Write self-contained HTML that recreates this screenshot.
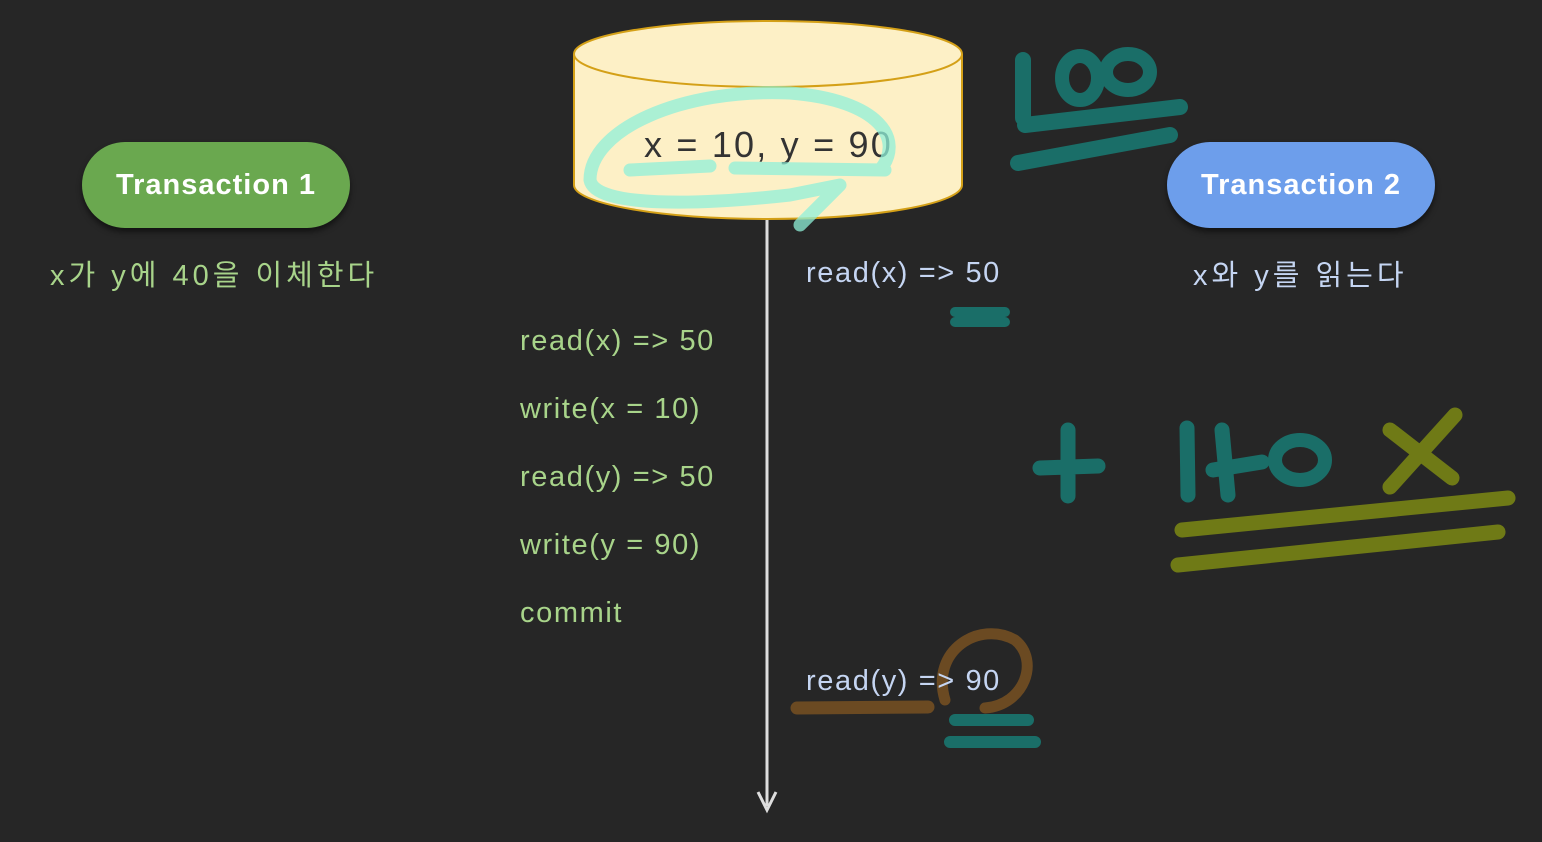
<!DOCTYPE html>
<html><head><meta charset="utf-8"><style>
html,body{margin:0;padding:0;background:#262626;}
body{width:1542px;height:842px;overflow:hidden;position:relative;font-family:"Liberation Sans","Noto Sans CJK KR",sans-serif;}
.t{position:absolute;white-space:nowrap;font-size:29px;letter-spacing:1.6px;}
.g{color:#a8d48a;}
.b{color:#c5d5f2;}
.k{letter-spacing:4px;}
.pill{position:absolute;height:86px;border-radius:43px;color:#fff;font-size:29px;font-weight:600;letter-spacing:1px;display:flex;align-items:center;justify-content:center;box-shadow:0 4px 6px rgba(0,0,0,.5);}
</style></head><body>
<svg width="1542" height="842" style="position:absolute;left:0;top:0">
 <path d="M574 54 L574 185 A194 34 0 0 0 962 185 L962 54" fill="#fdf0c6" stroke="#d4a017" stroke-width="2"/>
 <ellipse cx="768" cy="54" rx="194" ry="33" fill="#fdf0c6" stroke="#d4a017" stroke-width="2"/>
 <line x1="767" y1="220" x2="767" y2="806" stroke="#ddd" stroke-width="3"/>
 <path d="M758 792 L767 810 L776 792" fill="none" stroke="#ddd" stroke-width="3"/>
</svg>
<div class="t" style="left:644px;top:124px;font-size:36px;color:#333;letter-spacing:2.2px;">x = 10, y = 90</div>
<svg width="1542" height="842" style="position:absolute;left:0;top:0">
 <g fill="none" stroke-linecap="round" stroke-linejoin="round">
  <path d="M630 170 L710 166 M735 168 L885 170 M880 170 C905 140 880 100 790 93 C680 88 590 130 590 180 C595 208 700 205 790 195 L840 185 L800 225" stroke="#8ff0d8" stroke-opacity="0.75" stroke-width="13"/>
  <path d="M1023 60 L1023 118 M1025 125 L1180 107 M1018 163 L1170 135" stroke="#1a6e68" stroke-width="16"/>
  <ellipse cx="1080" cy="78" rx="18" ry="22" stroke="#1a6e68" stroke-width="14"/>
  <ellipse cx="1128" cy="72" rx="22" ry="18" stroke="#1a6e68" stroke-width="14"/>
  <path d="M955 312 L1005 312 M955 322 L1005 322" stroke="#1a6e68" stroke-width="10"/>
  <path d="M1040 468 L1098 466 M1068 430 L1068 496" stroke="#1a6e68" stroke-width="15"/>
  <path d="M1187 428 L1188 495 M1222 430 L1228 495 M1213 470 L1262 462" stroke="#1a6e68" stroke-width="15"/>
  <ellipse cx="1300" cy="460" rx="25" ry="20" stroke="#1a6e68" stroke-width="14"/>
  <path d="M1390 430 L1452 478 M1455 415 L1390 487" stroke="#6f7a16" stroke-width="15"/>
  <path d="M1182 530 L1508 498 M1178 565 L1498 532" stroke="#6f7a16" stroke-width="15"/>
  <path d="M797 708 L928 707" stroke="#6b4a22" stroke-width="13"/>
  <path d="M945 700 C930 650 980 620 1015 640 C1040 660 1025 705 985 708" stroke="#6b4a22" stroke-width="11"/>
  <path d="M955 720 L1028 720 M950 742 L1035 742" stroke="#1a6e68" stroke-width="12"/>
 </g>
</svg>
<div class="pill" style="left:82px;top:142px;width:268px;background:#6aa84f;">Transaction 1</div>
<div class="pill" style="left:1167px;top:142px;width:268px;background:#6d9eeb;">Transaction 2</div>
<div class="t g k" style="left:50px;top:252px;">x가 y에 40을 이체한다</div>
<div class="t k" style="left:1193px;top:252px;color:#c5d5f2;">x와 y를 읽는다</div>
<div class="t g" style="left:520px;top:325px;">read(x) =&gt; 50</div>
<div class="t g" style="left:520px;top:393px;">write(x = 10)</div>
<div class="t g" style="left:520px;top:461px;">read(y) =&gt; 50</div>
<div class="t g" style="left:520px;top:529px;">write(y = 90)</div>
<div class="t g" style="left:520px;top:597px;">commit</div>
<div class="t b" style="left:806px;top:257px;">read(x) =&gt; 50</div>
<div class="t b" style="left:806px;top:665px;">read(y) =&gt; 90</div>
</body></html>
